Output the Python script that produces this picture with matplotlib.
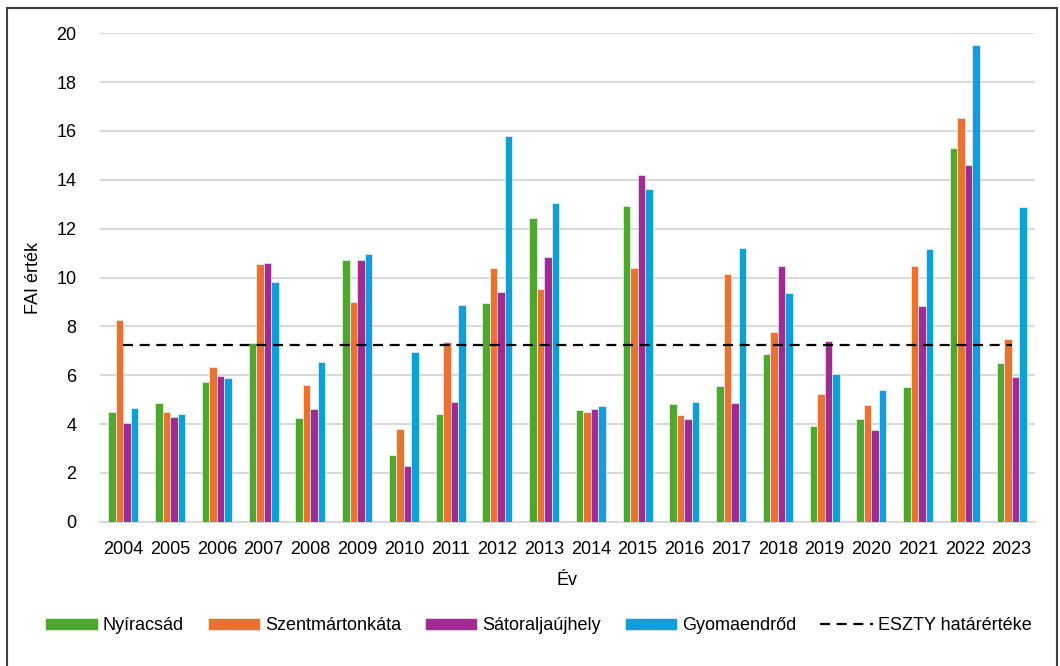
import matplotlib.pyplot as plt
import numpy as np
from matplotlib.patches import Rectangle

years = ['2004', '2005', '2006', '2007', '2008', '2009', '2010', '2011', '2012', '2013',
         '2014', '2015', '2016', '2017', '2018', '2019', '2020', '2021', '2022', '2023']
nyiracsad = [4.50, 4.85, 5.73, 7.33, 4.26, 10.70, 2.72, 4.40, 8.97, 12.45,
             4.56, 12.92, 4.81, 5.57, 6.87, 3.93, 4.19, 5.53, 15.32, 6.49]
szentmartonkata = [8.26, 4.50, 6.35, 10.57, 5.60, 9.01, 3.81, 7.37, 10.40, 9.52,
                   4.48, 10.40, 4.36, 10.14, 7.75, 5.23, 4.77, 10.48, 16.53, 7.47]
satoraljaujhely = [4.05, 4.30, 5.98, 10.61, 4.60, 10.70, 2.29, 4.89, 9.39, 10.83,
                   4.62, 14.19, 4.19, 4.85, 10.48, 7.41, 3.75, 8.85, 14.59, 5.94]
gyomaendrod = [4.64, 4.40, 5.90, 9.80, 6.53, 10.95, 6.95, 8.89, 15.78, 13.05,
               4.72, 13.64, 4.89, 11.19, 9.35, 6.03, 5.39, 11.15, 19.52, 12.87]
limit = 7.24

names = ['Nyíracsád', 'Szentmártonkáta', 'Sátoraljaújhely', 'Gyomaendrőd']
colors = ['#4EA72E', '#E97132', '#A02B93', '#0F9ED5']
series = [nyiracsad, szentmartonkata, satoraljaujhely, gyomaendrod]

plt.rcParams['font.family'] = ['Liberation Sans', 'DejaVu Sans']
fs = 13

fig = plt.figure(figsize=(10.6, 6.66), dpi=100)
ax = fig.add_axes([100 / 1060, 1 - 521.7 / 666, 935 / 1060, 488.4 / 666])

x = np.arange(len(years))
w = 0.16
handles = []
for i, (vals, name, c) in enumerate(zip(series, names, colors)):
    h = ax.bar(x + (i - 1.5) * w, vals, w, color=c, label=name,
               edgecolor='white', linewidth=0.4, zorder=3)
    handles.append(h)
ln, = ax.plot(x, [limit] * len(years), color='black', linestyle=(0, (4.5, 3)),
              linewidth=1.6, label='ESZTY határértéke', zorder=4)
handles.append(ln)

ax.set_xlim(-0.5, len(years) - 0.5)
ax.set_ylim(0, 20)
ax.set_yticks(np.arange(0, 21, 2))
ax.set_xticks(x)
ax.set_xticklabels(years)
ax.yaxis.grid(True, color='#D9D9D9', linewidth=1.5, zorder=0)
ax.set_axisbelow(True)
for s in ['top', 'right', 'left']:
    ax.spines[s].set_visible(False)
ax.spines['bottom'].set_color('#D9D9D9')
ax.spines['bottom'].set_linewidth(1.5)
ax.tick_params(axis='both', length=0, labelsize=fs, colors='black')
ax.tick_params(axis='y', pad=17)
ax.tick_params(axis='x', pad=14)
ax.set_ylabel('FAI érték', fontsize=fs, labelpad=10)
ax.set_xlabel('Év', fontsize=fs, labelpad=10)

fig.legend(handles=handles, loc='center', bbox_to_anchor=(0.508, 1 - 626 / 666), ncol=5,
           frameon=False, fontsize=fs, handlelength=2.9, handleheight=0.6,
           columnspacing=1.3, handletextpad=0.3)

fig.patches.append(Rectangle((7 / 1060, -0.02), 1050 / 1060, 1.02 - 8 / 666,
                             transform=fig.transFigure, fill=False,
                             edgecolor='#404040', linewidth=1.5))

fig.savefig('out.png', dpi=100)
